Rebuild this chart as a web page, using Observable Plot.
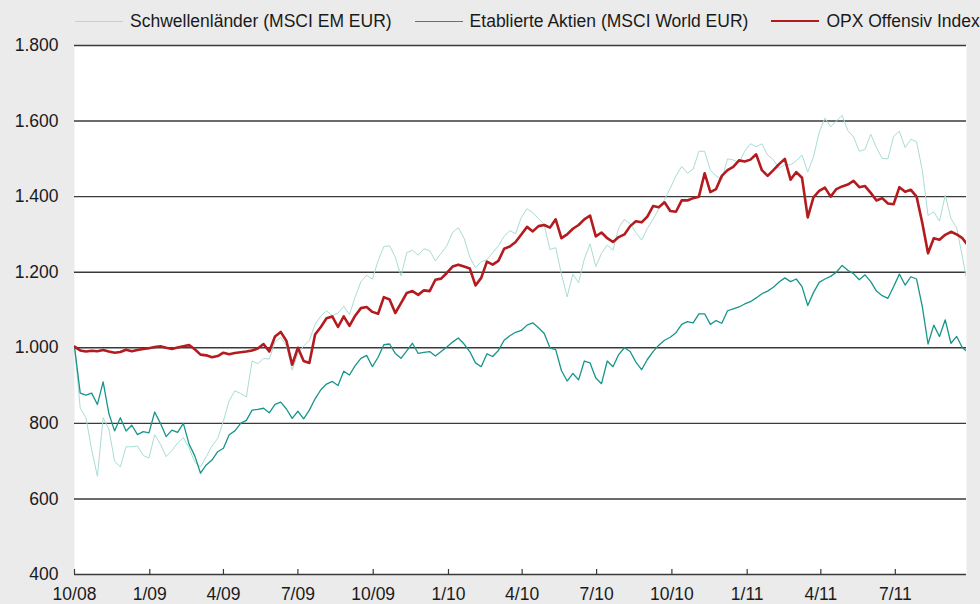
<!DOCTYPE html>
<html><head><meta charset="utf-8">
<script src="https://cdn.jsdelivr.net/npm/d3@7"></script>
<script src="https://cdn.jsdelivr.net/npm/@observablehq/plot@0.6"></script>
<style>
html,body{margin:0;padding:0;background:#ebebeb;font-family:Arial,"Liberation Sans",sans-serif;}
#legend{height:36px;box-sizing:border-box;padding:6px 0 0 75px;display:flex;align-items:center;font-size:17.5px;color:#1a1a1a;white-space:nowrap;}
.item{display:flex;align-items:center;margin-right:23px}
.sw{width:48px;margin-right:7px}
#chart svg{display:block}
</style></head><body>
<div id="legend"></div><div id="chart"></div>
<script>
const seriesNames = ["Schwellenländer (MSCI EM EUR)", "Etablierte Aktien (MSCI World EUR)", "OPX Offensiv Index"];
const seriesColors = ["#a9dcd5", "#17958a", "#b31b1f"];
const seriesWidths = [1, 1.3, 2.6];
const startDate = "2008-10-01"; // weekly observations from this date
const endDate = "2011-09-26";

const emValues = [
1003, 840, 815, 730, 660, 815, 785, 700, 685, 738,
738, 740, 715, 708, 770, 745, 712, 728, 748, 762,
735, 697, 685, 712, 740, 760, 806, 860, 886, 879,
870, 965, 958, 972, 970, 1015, 1028, 1005, 941, 985,
1005, 1020, 1062, 1084, 1098, 1085, 1092, 1110, 1088, 1135,
1175, 1192, 1182, 1230, 1268, 1270, 1240, 1190, 1252, 1258,
1245, 1262, 1257, 1230, 1250, 1270, 1305, 1318, 1290, 1240,
1212, 1228, 1233, 1252, 1270, 1295, 1310, 1302, 1345, 1368,
1358, 1342, 1325, 1260, 1265, 1195, 1135, 1195, 1172, 1235,
1275, 1215, 1250, 1272, 1258, 1318, 1340, 1328, 1305, 1285,
1316, 1340, 1368, 1392, 1422, 1455, 1480, 1462, 1473, 1520,
1520, 1470, 1455, 1445, 1500, 1497, 1490, 1520, 1540, 1532,
1540, 1510, 1498, 1475, 1485, 1484, 1495, 1510, 1465, 1505,
1570, 1608, 1585, 1600, 1615, 1575, 1558, 1520, 1525, 1565,
1530, 1501, 1500, 1560, 1573, 1530, 1552, 1545, 1470, 1350,
1360, 1335, 1404, 1342, 1318, 1240, 1158
];
const worldValues = [
1003, 880, 875, 880, 850, 910, 826, 780, 815, 780,
795, 770, 778, 775, 830, 800, 765, 782, 776, 800,
745, 714, 668, 690, 703, 725, 734, 770, 780, 800,
808, 835, 837, 840, 828, 850, 856, 838, 813, 832,
812, 835, 865, 889, 904, 911, 900, 938, 928, 953,
972, 980, 950, 975, 1008, 1010, 985, 972, 992, 1012,
985, 988, 990, 978, 990, 1002, 1015, 1026, 1010, 990,
960, 950, 984, 977, 993, 1020, 1032, 1041, 1046, 1060,
1066, 1053, 1038, 1000, 995, 940, 912, 932, 915, 965,
960, 920, 905, 965, 950, 982, 1000, 990, 962, 942,
969, 990, 1007, 1020, 1028, 1040, 1062, 1069, 1066, 1090,
1090, 1062, 1072, 1065, 1098, 1103, 1108, 1116, 1122, 1132,
1143, 1150, 1160, 1174, 1185, 1175, 1182, 1162, 1112, 1146,
1173, 1182, 1189, 1200, 1218, 1205, 1196, 1180, 1193, 1175,
1150, 1138, 1131, 1162, 1195, 1166, 1188, 1182, 1109, 1010,
1060, 1030, 1074, 1012, 1030, 1000, 988
];
const opxValues = [
1003, 993, 990, 992, 991, 994, 990, 987, 989, 995,
991, 994, 997, 999, 1002, 1004, 1000, 997, 1001, 1004,
1007, 996, 982, 980, 975, 978, 987, 983, 986, 988,
990, 993, 998, 1010, 990, 1030, 1042, 1018, 955, 1000,
965, 960, 1035, 1055, 1078, 1083, 1055, 1083, 1058, 1085,
1105, 1108, 1095, 1090, 1134, 1128, 1092, 1118, 1145, 1150,
1140, 1152, 1150, 1180, 1183, 1198, 1215, 1220, 1215, 1210,
1165, 1185, 1228, 1220, 1230, 1262, 1268, 1280, 1300, 1320,
1308, 1322, 1325, 1318, 1340, 1290, 1300, 1315, 1325, 1340,
1350, 1295, 1305, 1290, 1280, 1293, 1300, 1322, 1335, 1332,
1347, 1375, 1372, 1385, 1362, 1360, 1390, 1390, 1396, 1400,
1462, 1412, 1420, 1455, 1470, 1479, 1496, 1493, 1498, 1512,
1470, 1455, 1470, 1486, 1500, 1445, 1465, 1450, 1345, 1398,
1415, 1424, 1400, 1420, 1427, 1432, 1442, 1425, 1428, 1410,
1390, 1396, 1382, 1380, 1425, 1413, 1418, 1400, 1330, 1250,
1290, 1286, 1299, 1307, 1300, 1290, 1270
];
const xTickDates = ["2008-10-01","2009-01-01","2009-04-01","2009-07-01","2009-10-01","2010-01-01","2010-04-01","2010-07-01","2010-10-01","2011-01-01","2011-04-01","2011-07-01"];
const xTickLabels = ["10/08","1/09","4/09","7/09","10/09","1/10","4/10","7/10","10/10","1/11","4/11","7/11"];
const yTicks = [400, 600, 800, 1000, 1200, 1400, 1600, 1800];

// build tables
const t0 = new Date(startDate);
const toRows = (vals) => vals.map((v, i) => ({date: d3.utcDay.offset(t0, 7 * i), value: v}));
const emRows = toRows(emValues), worldRows = toRows(worldValues), opxRows = toRows(opxValues);
const tickDates = xTickDates.map(s => new Date(s));
const labelByTime = new Map(tickDates.map((d, i) => [+d, xTickLabels[i]]));
const fmtDE = d3.formatLocale({decimal: ",", thousands: ".", grouping: [3], currency: ["", "€"]}).format(",");

// legend
const legendWidths = [1, 1.5, 2.5];
const legend = document.getElementById("legend");
seriesNames.forEach((name, i) => {
  const it = document.createElement("div"); it.className = "item";
  const sw = document.createElement("div"); sw.className = "sw";
  sw.style.borderTop = `${legendWidths[i]}px solid ${seriesColors[i]}`;
  const tx = document.createElement("span"); tx.textContent = name;
  it.append(sw, tx); legend.append(it);
});

const gridColor = "#3a3a3a";
const chart = Plot.plot({
  width: 980, height: 568,
  marginTop: 9, marginBottom: 30, marginLeft: 74, marginRight: 14,
  style: {background: "#ebebeb", fontFamily: "Arial, 'Liberation Sans', sans-serif", fontSize: "17.5px", color: "#1a1a1a"},
  x: {type: "utc", domain: [new Date(startDate), new Date(endDate)], label: null},
  y: {domain: [400, 1800], label: null},
  marks: [
    Plot.frame({fill: "white", stroke: "none"}),
    Plot.ruleY(yTicks.filter(v => v > 400), {stroke: gridColor, strokeWidth: 1.4}),
    Plot.line(emRows, {x: "date", y: "value", stroke: seriesColors[0], strokeWidth: seriesWidths[0], clip: true}),
    Plot.line(worldRows, {x: "date", y: "value", stroke: seriesColors[1], strokeWidth: seriesWidths[1], clip: true}),
    Plot.line(opxRows, {x: "date", y: "value", stroke: seriesColors[2], strokeWidth: seriesWidths[2], clip: true}),
    Plot.ruleY([400], {stroke: gridColor, strokeWidth: 1.4}),
    Plot.ruleX(tickDates, {x: d => d, y1: 400, y2: 400, insetTop: -5, stroke: gridColor, strokeWidth: 1.2}),
    Plot.axisY({ticks: yTicks, tickSize: 0, tickPadding: 16, tickFormat: fmtDE, fontSize: 17.5, label: null}),
    Plot.axisX({ticks: tickDates, tickSize: 0, tickPadding: 13, tickFormat: d => labelByTime.get(+d), fontSize: 17.5, label: null})
  ]
});
document.getElementById("chart").append(chart);
</script>
</body></html>
